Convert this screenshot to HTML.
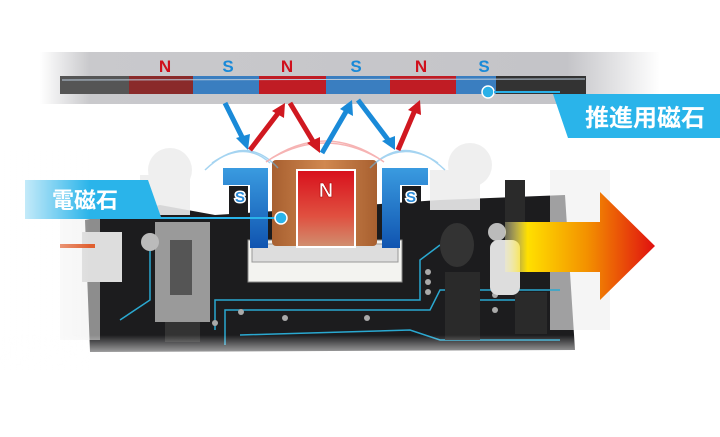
<!DOCTYPE html>
<html><head><meta charset="utf-8"><style>
html,body{margin:0;padding:0;background:#fff;width:720px;height:437px;overflow:hidden}
svg{display:block}
</style></head><body>
<svg width="720" height="437" viewBox="0 0 720 437" xmlns="http://www.w3.org/2000/svg" font-family="Liberation Sans, Noto Sans CJK JP, sans-serif">
<defs>
<linearGradient id="strip" x1="0" y1="0" x2="1" y2="0">
<stop offset="0" stop-color="#fff"/><stop offset="0.08" stop-color="#c9c9cc"/><stop offset="0.85" stop-color="#c4c4c8"/><stop offset="1" stop-color="#fff"/></linearGradient>
<linearGradient id="arrow" x1="0" y1="0" x2="1" y2="0">
<stop offset="0" stop-color="#fff8b0" stop-opacity="0.3"/><stop offset="0.15" stop-color="#ffe000"/><stop offset="0.55" stop-color="#f39000"/><stop offset="1" stop-color="#e01010"/></linearGradient>
<linearGradient id="redpanel" x1="0" y1="0" x2="0" y2="1">
<stop offset="0" stop-color="#d8101c"/><stop offset="0.6" stop-color="#e05040"/><stop offset="1" stop-color="#d09070"/></linearGradient>
<linearGradient id="coil" x1="0" y1="0" x2="1" y2="0"><stop offset="0" stop-color="#a86030"/><stop offset="0.5" stop-color="#d08850"/><stop offset="1" stop-color="#a86030"/></linearGradient>
<linearGradient id="blue" x1="0" y1="0" x2="0" y2="1"><stop offset="0" stop-color="#3a9be0"/><stop offset="1" stop-color="#1054b0"/></linearGradient>
<linearGradient id="fadeL" x1="0" y1="0" x2="1" y2="0"><stop offset="0" stop-color="#fff"/><stop offset="1" stop-color="#fff" stop-opacity="0"/></linearGradient>
<linearGradient id="fadeB" x1="0" y1="0" x2="0" y2="1"><stop offset="0" stop-color="#fff" stop-opacity="0"/><stop offset="1" stop-color="#fff"/></linearGradient>
</defs>
<rect x="40" y="52" width="620" height="52" fill="url(#strip)"/>
<rect x="60" y="76" width="520" height="18" fill="#555"/>
<rect x="129" y="76" width="64" height="18" fill="#8a2a2a"/>
<rect x="193" y="76" width="66" height="18" fill="#3a7ec0"/>
<rect x="259" y="76" width="67" height="18" fill="#c01c24"/>
<rect x="326" y="76" width="64" height="18" fill="#3a7ec0"/>
<rect x="390" y="76" width="66" height="18" fill="#c01c24"/>
<rect x="456" y="76" width="40" height="18" fill="#3a7ec0"/>
<rect x="496" y="76" width="90" height="18" fill="#333"/>
<line x1="62" y1="80" x2="585" y2="79" stroke="#bcd" stroke-width="1"/>
<g font-weight="bold" font-size="17" text-anchor="middle">
<text x="165" y="72" fill="#d0101c">N</text><text x="228" y="72" fill="#1a8ad8">S</text>
<text x="287" y="72" fill="#d0101c">N</text><text x="356" y="72" fill="#1a8ad8">S</text>
<text x="421" y="72" fill="#d0101c">N</text><text x="484" y="72" fill="#1a8ad8">S</text></g>
<circle cx="488" cy="92" r="6" fill="#2ab0e8" stroke="#fff" stroke-width="1.5"/>
<line x1="494" y1="92" x2="560" y2="92" stroke="#2ab0e8" stroke-width="2"/>
<polygon points="553,94 720,94 720,138 568,138" fill="#2ab4ea"/>
<text x="645" y="126" fill="#fff" font-size="24" text-anchor="middle" font-weight="bold">推進用磁石</text>
<polygon points="85,220 160,205 215,215 440,200 565,195 575,350 90,352" fill="#1c1c1e"/>
<g fill="#eee" opacity="0.9"><circle cx="170" cy="170" r="22"/><circle cx="470" cy="165" r="22"/><rect x="140" y="175" width="50" height="40"/><rect x="430" y="170" width="50" height="40"/><rect x="550" y="170" width="60" height="160" opacity="0.7"/><rect x="60" y="200" width="40" height="140" opacity="0.6"/></g>
<rect x="505" y="180" width="20" height="70" fill="#2a2a2a"/>
<g stroke="#2aa8d0" stroke-width="1.5" fill="none">
<path d="M215,330 L215,300 L420,300 L420,260 L440,245"/>
<path d="M225,345 L225,310 L430,310 L440,290 L560,290"/>
<path d="M240,335 L410,330 L440,340 L560,340"/>
<path d="M120,320 L150,300 L150,250"/>
<path d="M470,300 L520,300 L540,320"/>
</g>
<g fill="#aaa"><circle cx="215" cy="323" r="3"/><circle cx="241" cy="312" r="3"/><circle cx="285" cy="318" r="3"/><circle cx="367" cy="318" r="3"/><circle cx="428" cy="272" r="3"/><circle cx="428" cy="282" r="3"/><circle cx="428" cy="292" r="3"/><circle cx="495" cy="295" r="3"/><circle cx="495" cy="310" r="3"/></g>
<rect x="445" y="272" width="35" height="68" fill="#2a2a2a"/>
<rect x="515" y="292" width="32" height="42" fill="#2a2a2a"/>
<ellipse cx="457" cy="245" rx="17" ry="22" fill="#333"/>
<rect x="155" y="222" width="55" height="100" fill="#9a9a9a"/>
<rect x="170" y="240" width="22" height="55" fill="#555"/>
<rect x="82" y="232" width="40" height="50" fill="#ddd"/>
<rect x="60" y="244" width="35" height="4" fill="#e06030"/>
<rect x="165" y="322" width="35" height="20" fill="#333"/>
<circle cx="150" cy="242" r="9" fill="#bbb"/>
<circle cx="497" cy="232" r="9" fill="#bbb"/>
<rect x="490" y="240" width="30" height="55" rx="8" fill="#ddd"/>
<rect x="248" y="240" width="154" height="42" fill="#f3f3f0" stroke="#888"/>
<rect x="252" y="244" width="146" height="18" fill="#ddd" stroke="#999"/>
<path d="M223,168 L268,168 L268,248 L250,248 L250,185 L223,185 Z" fill="url(#blue)"/>
<path d="M428,168 L382,168 L382,248 L400,248 L400,185 L428,185 Z" fill="url(#blue)"/>
<rect x="229" y="186" width="19" height="50" fill="#1c1c1e"/>
<rect x="402" y="186" width="19" height="50" fill="#1c1c1e"/>
<rect x="272" y="160" width="105" height="86" fill="url(#coil)" rx="4"/>
<rect x="297" y="170" width="58" height="77" fill="url(#redpanel)" stroke="#fff" stroke-width="2"/>
<text x="326" y="197" fill="#fff" font-size="20" font-weight="bold" text-anchor="middle" stroke="#a00" stroke-width="0.6">N</text>
<text x="240" y="202" fill="#2a8ad8" font-size="15" font-weight="bold" text-anchor="middle" stroke="#fff" stroke-width="3" paint-order="stroke">S</text>
<text x="411" y="202" fill="#2a8ad8" font-size="15" font-weight="bold" text-anchor="middle" stroke="#fff" stroke-width="3" paint-order="stroke">S</text>
<g fill="none" stroke-width="1.5" opacity="0.6">
<path d="M212,163 Q245,140 270,163" stroke="#6ab8e8"/><path d="M205,170 Q245,132 278,168" stroke="#6ab8e8"/>
<path d="M375,163 Q405,140 438,163" stroke="#6ab8e8"/><path d="M370,168 Q405,132 445,170" stroke="#6ab8e8"/>
<path d="M272,158 Q325,128 378,158" stroke="#f08080"/><path d="M266,162 Q325,120 384,162" stroke="#f08080"/></g>
<g stroke-width="5" fill="none">
<line x1="225" y1="103" x2="244" y2="141" stroke="#1a8ad8"/>
<line x1="250" y1="150" x2="279" y2="112" stroke="#d01820"/>
<line x1="290" y1="103" x2="314" y2="143" stroke="#d01820"/>
<line x1="322" y1="153" x2="347" y2="110" stroke="#1a8ad8"/>
<line x1="358" y1="100" x2="389" y2="141" stroke="#1a8ad8"/>
<line x1="398" y1="150" x2="415" y2="110" stroke="#d01820"/></g>
<g><polygon points="248,150 236,138 250,134" fill="#1a8ad8"/><polygon points="285,103 284,118 272,111" fill="#d01820"/><polygon points="320,153 307,143 320,137" fill="#d01820"/><polygon points="352,100 353,116 340,109" fill="#1a8ad8"/><polygon points="395,150 382,141 395,136" fill="#1a8ad8"/><polygon points="420,100 421,115 408,110" fill="#d01820"/></g>
<polygon points="25,180 148,180 161,217 25,217" fill="#2ab4ea"/>
<text x="85" y="208" fill="#fff" font-size="22" font-weight="bold" text-anchor="middle">電磁石</text>
<line x1="25" y1="218" x2="281" y2="218" stroke="#2ab4ea" stroke-width="2"/>
<circle cx="281" cy="218" r="6" fill="#2ab4ea" stroke="#fff" stroke-width="1.5"/>
<polygon points="505,222 600,222 600,192 655,246 600,300 600,272 505,272" fill="url(#arrow)"/>
<rect x="0" y="150" width="90" height="220" fill="url(#fadeL)"/>
<rect x="0" y="335" width="720" height="30" fill="url(#fadeB)"/>
</svg>
</body></html>
